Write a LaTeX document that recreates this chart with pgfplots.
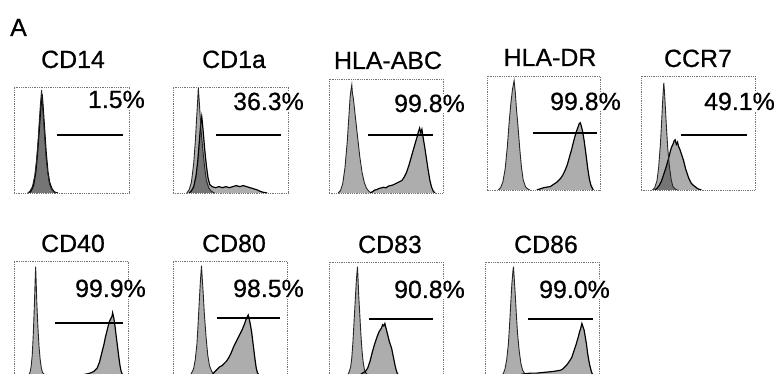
\documentclass[border=0pt]{standalone}
\usepackage{pgfplots}
\pgfplotsset{compat=1.18}
\usepackage{fontspec}
\setmainfont{Liberation Sans}
\newfontfamily\figfont{Liberation Sans}[FakeBold=0.6]
\pgfplotsset{
  panel/.style={scale only axis, anchor=south west, xmin=0, xmax=100, ymin=0, ymax=100,
    ticks=none, axis line style={draw=black!55, line width=0.8pt, densely dotted}, clip=true},
  iso/.style={draw=black!85, line width=0.9pt, fill=black, fill opacity=0.32, mark=none},
  stain/.style={draw=black, line width=1.2pt, fill=black, fill opacity=0.32, mark=none},
  gate/.style={black, line width=1.9pt, mark=none},
}
\tikzset{
  ttl/.style={anchor=base, inner sep=0pt, font=\figfont\fontsize{25}{28}\selectfont},
  pct/.style={anchor=base east, fill=white, inner sep=1bp, font=\figfont\fontsize{25}{28}\selectfont},
}
\begin{document}
\begin{tikzpicture}
\begin{scope}
\clip (0,0) rectangle (774bp,374bp);
% ---------- Row 1 ----------
% CD14
\begin{axis}[panel, at={(14bp,181bp)}, width=115bp, height=106bp]
\addplot[stain] coordinates {(13,0)(15,2)(17,7)(19,20)(20.5,38)(22,60)(23,76)(24,88)(24.5,93)(25,86)(26,70)(27,54)(28,38)(29.5,20)(31,10)(33,4)(35,1)(38,0)};
\addplot[iso] coordinates {(12,0)(14,2)(16,6)(18,16)(19.5,30)(21,50)(22,68)(23,84)(23.6,92)(24,97)(24.5,90)(25,80)(26,64)(27,48)(28,32)(29.5,18)(31,8)(33,3)(35,1)(37,0)};
\addplot[gate] coordinates {(37,55)(95,55)};
\end{axis}
% CD1a
\begin{axis}[panel, at={(173bp,181bp)}, width=115bp, height=106bp]
\addplot[stain] coordinates {(14,0)(16,2)(18,6)(20,16)(21.5,30)(23,50)(24,64)(25,72)(25.6,66)(26.5,55)(27.5,42)(29,26)(30.5,14)(32,8)(34,6)(37,5)(40,6)(43,5)(46,6)(49,5)(52,6)(55,7)(58,6)(61,7)(64,6)(67,5)(70,4)(73,3)(76,1.5)(79,0.5)(82,0)};
\addplot[iso] coordinates {(12,0)(14,3)(16,10)(18,28)(19.5,50)(20.5,70)(21.5,88)(22,99)(22.6,90)(23.5,75)(24.5,58)(26,40)(27.5,24)(29,12)(31,5)(33,2)(36,0)};
\addplot[gate] coordinates {(37,55)(94,55)};
\end{axis}
% HLA-ABC
\begin{axis}[panel, at={(329bp,181bp)}, width=114bp, height=114bp]
\addplot[iso] coordinates {(8,0)(10,2)(12,8)(14,22)(16,45)(17.5,68)(18.5,84)(19.5,92)(20,95)(20.5,88)(21.5,82)(23,68)(25,50)(27,32)(29,18)(31,9)(33,4)(35,1.5)(37,0)};
\addplot[stain] coordinates {(36,0)(38,1)(40,2.5)(42,3)(44,4)(46,4.5)(48,5)(50,4.5)(52,6)(54,6.5)(56,7)(58,8)(60,9)(62,10)(64,11)(66,14)(68,18)(70,24)(72,31)(74,38)(76,45)(77.5,50)(78.5,54)(79.5,57)(80.5,53)(81.5,56)(82.5,49)(84,40)(85.5,30)(87,20)(88.5,11)(90,5)(91.5,1.5)(93,0)};
\addplot[gate] coordinates {(34,51)(91,51)};
\end{axis}
% HLA-DR
\begin{axis}[panel, at={(487bp,184bp)}, width=113bp, height=114bp]
\addplot[iso] coordinates {(10,0)(12,2)(14,7)(16,18)(18,38)(19.5,58)(21,75)(22.5,88)(24,96)(25,86)(26,72)(27.5,55)(29,36)(30.5,20)(32,9)(34,3)(36,1)(38,0)};
\addplot[stain] coordinates {(44,0)(47,1)(50,2)(53,2.5)(56,3)(59,5)(62,7)(65,10)(67,13)(69,17)(71,22)(73,29)(75,36)(77,44)(79,51)(80.5,55)(81.5,58)(82.5,59)(83.5,56)(84.5,52)(86,43)(87.5,32)(89,20)(90.5,10)(92,4)(94,0)};
\addplot[gate] coordinates {(41,50)(97,50)};
\end{axis}
% CCR7
\begin{axis}[panel, at={(641bp,184bp)}, width=114bp, height=114bp]
\addplot[stain] coordinates {(12,0)(14,1.5)(16,4)(18,8)(20,14)(22,20)(24,27)(25,31)(26,35)(27,38)(28,40)(29,43)(30,44)(31,40)(32,42)(33,38)(34,36)(35,33)(36,30)(37,27)(38,23)(39,19)(40,16)(41,13)(42,10)(43,8)(44,6)(46,4)(48,2.5)(50,1)(53,0)};
\addplot[iso] coordinates {(10,0)(12,2)(14,8)(15.5,20)(17,40)(18,58)(19,78)(19.6,88)(20,94)(20.6,86)(21.5,70)(22.5,52)(23.5,36)(25,20)(26.5,9)(28,3)(30,1)(32,0)};
\addplot[gate] coordinates {(35,48)(93,48)};
\end{axis}
% ---------- Row 2 ----------
% CD40
\begin{axis}[panel, at={(14bp,-2bp)}, width=114bp, height=115bp]
\addplot[iso] coordinates {(11,0)(13,1)(14,3)(15,8)(16,18)(17,38)(18,65)(18.5,82)(19,95)(19.5,80)(20,64)(21,42)(22,25)(23,14)(24,7)(25,3)(27,1)(29,0)};
\addplot[stain] coordinates {(55,0)(60,1)(65,2)(68,3)(70,4)(72,6)(73,7)(75,12)(76,16)(77,20)(78,24)(79,28)(80,33)(81,37)(82,41)(83,45)(84,48)(85,50)(86,52)(86.5,55)(87,53)(88,48)(89,40)(90,32)(91,24)(92,16)(93,9)(94,4)(95,1.5)(97,0)};
\addplot[gate] coordinates {(36,46)(96,46)};
\end{axis}
% CD80
\begin{axis}[panel, at={(173bp,-2bp)}, width=114bp, height=115bp]
\addplot[iso] coordinates {(14,0)(16,2)(18,6)(19.5,14)(21,28)(22,45)(23,64)(24,82)(25,96)(25.6,86)(26.5,72)(27.5,54)(29,34)(30.5,18)(32,9)(34,4)(36,1.5)(38,0)};
\addplot[stain] coordinates {(33,0)(35,2)(37,4)(39,6)(41,8)(43,9)(45,11)(47,13)(49,16)(51,20)(53,25)(55,29)(57,33)(59,37)(61,41)(63,46)(64,49)(65,51)(66,53)(67,49)(68,44)(69,38)(70,30)(71,22)(72,14)(73,7)(74,3)(76,0)};
\addplot[gate] coordinates {(39,50.5)(94,50.5)};
\end{axis}
% CD83
\begin{axis}[panel, at={(329bp,-2bp)}, width=114bp, height=114bp]
\addplot[iso] coordinates {(16,0)(17.5,3)(19,8)(20,16)(21,30)(22,48)(23,66)(24,84)(25,96)(25.5,85)(26,72)(27,54)(28,36)(29,22)(30,12)(31,6)(32,3)(34,1)(36,0)};
\addplot[stain] coordinates {(26,0)(28,1.5)(30,3)(32,4)(34,7)(36,13)(38,21)(40,28)(42,34)(44,39)(46,42)(47,45)(48,44)(49,46)(50,42)(51,38)(52,34)(53,30)(54,27)(55,24)(56,19)(57,14)(58,9)(59,5)(60,2)(62,0)};
\addplot[gate] coordinates {(35,50)(91,50)};
\end{axis}
% CD86
\begin{axis}[panel, at={(485bp,-2bp)}, width=114bp, height=114bp]
\addplot[iso] coordinates {(14,0)(16,2)(17.5,6)(19,14)(20.5,28)(21.5,44)(22.5,62)(23.5,80)(24.5,92)(25,96)(25.5,88)(26.5,72)(27.5,54)(28.5,38)(30,22)(31.5,11)(33,5)(35,2)(37,0)};
\addplot[stain] coordinates {(30,0)(32,1.5)(35,2)(40,2.5)(45,2.5)(50,3)(55,3.5)(60,4)(63,4.5)(66,5)(68,6)(70,8)(72,10)(74,13)(76,16)(78,22)(80,28)(82,35)(83,39)(84,42)(85,46)(86,43)(87,40)(88,34)(89,28)(90,20)(91,14)(92,9)(93,5)(94,2)(96,0)};
\addplot[gate] coordinates {(38,50)(95,50)};
\end{axis}
% ---------- Text ----------
\node[anchor=base west, inner sep=0pt, font=\figfont\fontsize{25}{28}\selectfont] at (10bp,338bp) {A};
\node[ttl] at (73bp,306bp) {CD14};
\node[ttl] at (234bp,306bp) {CD1a};
\node[ttl] at (388bp,305bp) {HLA-ABC};
\node[ttl] at (550bp,308bp) {HLA-DR};
\node[ttl] at (698bp,307bp) {CCR7};
\node[pct] at (146bp,266bp) {1.5\%};
\node[pct] at (305bp,264bp) {36.3\%};
\node[pct] at (466bp,262bp) {99.8\%};
\node[pct] at (622bp,264bp) {99.8\%};
\node[pct] at (776bp,264bp) {49.1\%};
\node[ttl] at (73bp,122bp) {CD40};
\node[ttl] at (234bp,122bp) {CD80};
\node[ttl] at (390bp,121bp) {CD83};
\node[ttl] at (546bp,121bp) {CD86};
\node[pct] at (147bp,77bp) {99.9\%};
\node[pct] at (305bp,77bp) {98.5\%};
\node[pct] at (466bp,76bp) {90.8\%};
\node[pct] at (611bp,76bp) {99.0\%};
\end{scope}
\pgfresetboundingbox
\useasboundingbox (0,0) rectangle (774bp,374bp);
\end{tikzpicture}
\end{document}
